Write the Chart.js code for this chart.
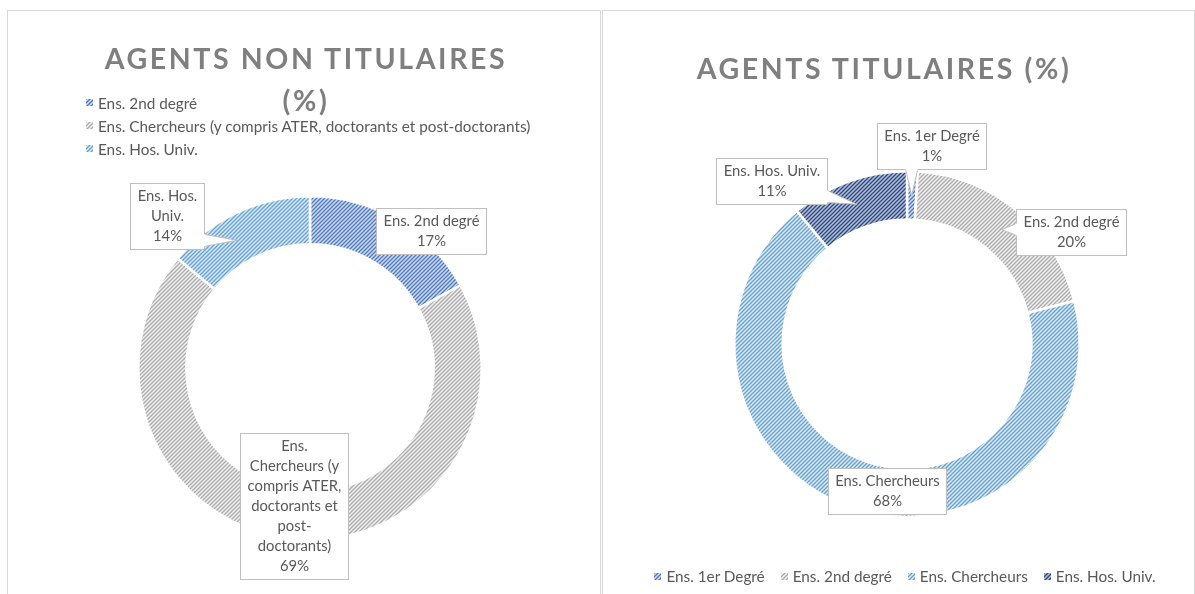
<!DOCTYPE html>
<html>
<head>
<meta charset="utf-8">
<script src="https://cdn.jsdelivr.net/npm/chart.js@4.4.1/dist/chart.umd.min.js"></script>
<style>
  body { margin: 0; background: #fff; width: 1195px; height: 594px; overflow: hidden; position: relative; font-family: Lato, 'Noto Sans', sans-serif; }
  .panel { position: absolute; top: 10px; height: 600px; border: 1px solid #d9d9d9; box-sizing: border-box; }
  #leftPanel { left: 7px; width: 594px; }
  #rightPanel { left: 602px; width: 593px; }
  .panel canvas { position: absolute; left: 0; top: 0; }
  .title { position: absolute; text-align: center; color: #7f7f7f; font-weight: bold; font-size: 28.5px; letter-spacing: 2.6px; line-height: 42px; }
  .legend { position: absolute; color: #595959; font-size: 15.3px; }
  .legend .item { display: flex; align-items: center; white-space: nowrap; }
  .legend .sw { display: inline-block; width: 7px; height: 7px; margin-right: 5px; }
  #leftLegend .item { height: 23px; }
  #rightLegend { display: flex; gap: 16px; justify-content: center; }
</style>
</head>
<body>
<div class="panel" id="leftPanel"><canvas id="leftChart" width="592" height="588"></canvas></div>
<div class="panel" id="rightPanel"><canvas id="rightChart" width="591" height="588"></canvas></div>
<div class="title" style="left:83px; top:37px; width:446px;">AGENTS NON TITULAIRES (%)</div>
<div class="title" style="left:584px; top:47px; width:600px;">AGENTS TITULAIRES (%)</div>
<div class="legend" id="leftLegend" style="left:86px; top:91px;"></div>
<div class="legend" id="rightLegend" style="left:605px; width:600px; top:567px;"></div>

<script>
// Agents non titulaires (%)
const leftLabels = ['Ens. 2nd degré', 'Ens. Chercheurs (y compris ATER, doctorants et post-doctorants)', 'Ens. Hos. Univ.'];
const leftValues = [17, 69, 14];

// Agents titulaires (%)
const rightLabels = ['Ens. 1er Degré', 'Ens. 2nd degré', 'Ens. Chercheurs', 'Ens. Hos. Univ.'];
const rightValues = [1, 20, 68, 11];

// hatched fills like the Excel pattern fills
function hatchCanvas(bg, fg) {
  const size = 4;
  const c = document.createElement('canvas');
  c.width = c.height = size;
  const g = c.getContext('2d');
  g.fillStyle = bg;
  g.fillRect(0, 0, size, size);
  g.strokeStyle = fg;
  g.lineWidth = 1.3;
  g.beginPath();
  g.moveTo(0, size); g.lineTo(size, 0);
  g.moveTo(-size / 2, size / 2); g.lineTo(size / 2, -size / 2);
  g.moveTo(size / 2, size * 1.5); g.lineTo(size * 1.5, size / 2);
  g.stroke();
  return c;
}

const blueC = hatchCanvas('#d3ddf2', '#4a77c7');
const grayC = hatchCanvas('#f0f0f0', '#ababab');
const lightC = hatchCanvas('#dce9f6', '#64a1d8');
const darkC = hatchCanvas('#b4bfd6', '#2c4a80');

function pat(c) {
  return document.createElement('canvas').getContext('2d').createPattern(c, 'repeat');
}

const leftFills = [blueC, grayC, lightC];
const rightFills = [blueC, grayC, lightC, darkC];

function wrapText(ctx, text, maxW) {
  const tokens = [];
  text.split(' ').forEach((w, i) => {
    w.split(/(?<=-)/).forEach((p, j) => tokens.push({ t: p, sep: (j === 0 && i > 0) ? ' ' : '' }));
  });
  const lines = [];
  let cur = '';
  tokens.forEach(tok => {
    const test = cur ? cur + tok.sep + tok.t : tok.t;
    if (cur && ctx.measureText(test).width > maxW) {
      lines.push(cur);
      cur = tok.t;
    } else {
      cur = test;
    }
  });
  if (cur) lines.push(cur);
  return lines;
}

const clamp = (v, a, b) => Math.max(a, Math.min(b, v));

// Callout data labels (box + wedge pointing at the slice)
const calloutPlugin = {
  id: 'callouts',
  afterDatasetsDraw(chart, args, opts) {
    const ctx = chart.ctx;
    const meta = chart.getDatasetMeta(0);
    const labels = chart.data.labels;
    const values = chart.data.datasets[0].data;
    ctx.save();
    ctx.font = opts.font;
    ctx.lineWidth = 1;
    meta.data.forEach((arc, i) => {
      const cfg = opts.items[i];
      const p = arc.tooltipPosition();
      const tip = { x: p.x + (cfg.tipDx || 0), y: p.y + (cfg.tipDy || 0) };
      const lines = wrapText(ctx, labels[i], cfg.wrap);
      lines.push(values[i] + '%');
      const tw = Math.max(...lines.map(l => ctx.measureText(l).width));
      const w = Math.round(tw + 2 * opts.padX);
      const h = lines.length * opts.lineH + 2 * opts.padY;
      const left = Math.round(p.x + cfg.dx - w / 2) + 0.5;
      const top = Math.round(p.y + cfg.dy - h / 2) + 0.5;
      const right = left + w, bottom = top + h;

      let p1 = null, p2 = null;
      const inX = tip.x >= left && tip.x <= right;
      if (tip.y > bottom && inX) {
        const cx = clamp(tip.x, left + 8, right - 8);
        p1 = [cx - 6, bottom]; p2 = [cx + 6, bottom];
      } else if (tip.y < top && inX) {
        const cx = clamp(tip.x, left + 8, right - 8);
        p1 = [cx - 6, top]; p2 = [cx + 6, top];
      } else if (tip.x > right) {
        const cy = clamp(tip.y, top + 8, bottom - 8);
        p1 = [right, cy - 6]; p2 = [right, cy + 6];
      } else if (tip.x < left) {
        const cy = clamp(tip.y, top + 8, bottom - 8);
        p1 = [left, cy - 6]; p2 = [left, cy + 6];
      }

      if (p1) {
        ctx.beginPath();
        ctx.moveTo(p1[0], p1[1]);
        ctx.lineTo(tip.x, tip.y);
        ctx.lineTo(p2[0], p2[1]);
        ctx.closePath();
        ctx.fillStyle = '#fff';
        ctx.fill();
        ctx.strokeStyle = '#bfbfbf';
        ctx.stroke();
      }
      ctx.fillStyle = '#fff';
      ctx.fillRect(left, top, w, h);
      ctx.strokeStyle = '#bfbfbf';
      ctx.strokeRect(left, top, w, h);
      if (p1) {
        ctx.beginPath();
        ctx.moveTo(p1[0], p1[1]);
        ctx.lineTo(p2[0], p2[1]);
        ctx.strokeStyle = '#fff';
        ctx.lineWidth = 2;
        ctx.stroke();
        ctx.lineWidth = 1;
      }

      ctx.fillStyle = '#595959';
      ctx.textAlign = 'center';
      ctx.textBaseline = 'middle';
      lines.forEach((l, k) => {
        ctx.fillText(l, left + w / 2, top + opts.padY + opts.lineH * (k + 0.5));
      });
    });
    ctx.restore();
  }
};

function makeDoughnut(id, labels, values, fills, padding, items) {
  return new Chart(document.getElementById(id), {
    type: 'doughnut',
    data: {
      labels: labels,
      datasets: [{
        data: values,
        backgroundColor: fills.map(pat),
        borderColor: '#ffffff',
        borderWidth: 2.5
      }]
    },
    options: {
      responsive: false,
      animation: false,
      cutout: '72%',
      layout: { padding: padding },
      plugins: {
        legend: { display: false },
        tooltip: { enabled: false },
        callouts: {
          font: '14.8px Lato, "Noto Sans", sans-serif',
          padX: 7,
          padY: 3,
          lineH: 20,
          items: items
        }
      }
    },
    plugins: [calloutPlugin]
  });
}

makeDoughnut('leftChart', leftLabels, leftValues, leftFills,
  { left: 129, right: 117, top: 184, bottom: 58 },
  [
    { dx: 46, dy: -10, wrap: 200 },
    { dx: -2, dy: -9, wrap: 98 },
    { dx: -80, dy: -18, wrap: 70, tipDx: -10, tipDy: 6 }
  ]);

makeDoughnut('rightChart', rightLabels, rightValues, rightFills,
  { left: 130, right: 113, top: 159, bottom: 81 },
  [
    { dx: 20, dy: -50, wrap: 200 },
    { dx: 69, dy: 2, wrap: 200 },
    { dx: 26, dy: 6, wrap: 200 },
    { dx: -85, dy: -23, wrap: 200 }
  ]);

// HTML legends
function buildLegend(elId, labels, fills) {
  const el = document.getElementById(elId);
  el.innerHTML = labels.map((l, i) =>
    `<div class="item"><span class="sw" style="background:url(${fills[i].toDataURL()})"></span>${l}</div>`
  ).join('');
}
buildLegend('leftLegend', leftLabels, leftFills);
buildLegend('rightLegend', rightLabels, rightFills);
</script>
</body>
</html>
